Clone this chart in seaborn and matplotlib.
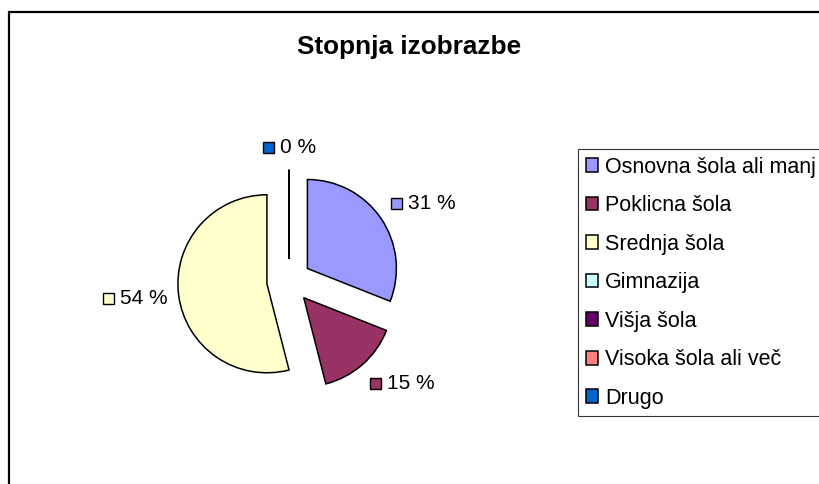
import numpy as np
import matplotlib
matplotlib.use("Agg")
import matplotlib.pyplot as plt
import seaborn as sns
from matplotlib.patches import Rectangle
from matplotlib.offsetbox import AnnotationBbox, DrawingArea, HPacker, TextArea

categories = ["Osnovna šola ali manj", "Poklicna šola", "Srednja šola", "Gimnazija",
              "Višja šola", "Visoka šola ali več", "Drugo"]
shares = [31, 15, 54, 0, 0, 0, 0]
colors = ["#9999FF", "#993366", "#FFFFCC", "#CCFFFF", "#660066", "#FF8080", "#0066CC"]
title = "Stopnja izobrazbe"

sns.set_theme(style="white")
plt.rcParams['font.family'] = ['Liberation Sans', 'DejaVu Sans']
plt.rcParams['text.color'] = 'black'

W, H = 819, 484
fig = plt.figure(figsize=(W / 100, H / 100), dpi=100)
fig.patch.set_facecolor("white")

# outer chart frame (runs off the right and bottom edges)
fig.patches.append(Rectangle((9 / W, -0.2), 1.2, 1 - 11.5 / H + 0.2, transform=fig.transFigure,
                             fill=False, ec="black", lw=1.6, zorder=0))

fig.text(409.5 / W, 1 - 47 / H, title, ha="center", va="center", fontsize=18.8,
         fontweight="bold", color="black")

# pie axes centred on the pie
cx, cy, R, half = 289, 281, 89, 200
ax = fig.add_axes([(cx - half) / W, (H - cy - half) / H, 2 * half / W, 2 * half / H])
explode = 0.25
palette = sns.color_palette(colors)
wedges, _ = ax.pie(shares, colors=palette, startangle=90, counterclock=False,
                   explode=[explode] * len(shares),
                   wedgeprops=dict(edgecolor="black", linewidth=1.1))
lim = half / R
ax.set_xlim(-lim, lim)
ax.set_ylim(-lim, lim)
ax.set_aspect("equal", adjustable="box")
ax.axis("off")

# data labels with a little colour key in front
total = sum(shares)
start = 90.0
for i, (v, c) in enumerate(zip(shares, palette)):
    span = 360.0 * v / total
    mid = np.deg2rad(start - span / 2)
    start -= span
    if v == 0 and i != len(shares) - 1:
        continue
    cs, sn = np.cos(mid), np.sin(mid)
    px, py = (explode + 1.12) * cs, (explode + 1.14) * sn
    da = DrawingArea(9, 9, 0, 0)
    da.add_artist(Rectangle((0.5, 0.5), 8, 8, fc=c, ec="black", lw=1.0))
    ta = TextArea(f"{v} %", textprops=dict(fontsize=15, color="black"))
    box = HPacker(children=[da, ta], align="center", pad=0, sep=4)
    align = (0.5 - 0.5 * np.clip(1.5 * cs, -1, 1), 0.5 - 0.5 * np.clip(1.5 * sn, -1, 1))
    ab = AnnotationBbox(box, (px, py), frameon=False, box_alignment=align,
                        annotation_clip=False)
    ab.set_clip_on(False)
    ax.add_artist(ab)

leg = fig.legend(wedges, categories, loc="upper left",
                 bbox_to_anchor=(578 / W, 1 - 149 / H), bbox_transform=fig.transFigure,
                 borderaxespad=0, fontsize=15.5, frameon=True, fancybox=False,
                 handlelength=0.6, handleheight=0.6, handletextpad=0.3,
                 labelspacing=0.815, borderpad=0.35)
leg.get_frame().set_edgecolor("black")
leg.get_frame().set_linewidth(0.8)

fig.savefig("out.png", dpi=100)
